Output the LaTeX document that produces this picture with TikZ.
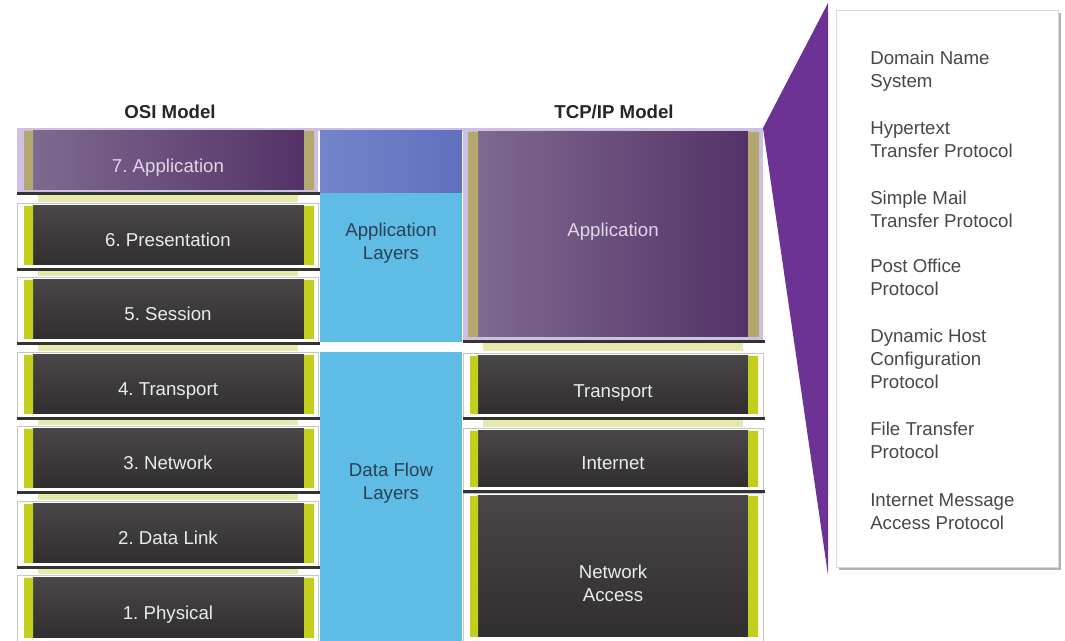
\documentclass[tikz,border=0pt]{standalone}
\usepackage{fontspec}
\setmainfont{Liberation Sans}
\frenchspacing
\definecolor{layertop}{RGB}{72,70,70}
\definecolor{layerdark}{RGB}{48,46,47}
\definecolor{layerstrip}{RGB}{196,206,28}
\definecolor{appstrip}{RGB}{178,168,112}
\definecolor{appframe}{RGB}{206,192,226}
\definecolor{appleft}{RGB}{126,106,142}
\definecolor{appright}{RGB}{84,50,104}
\definecolor{skyblue}{RGB}{95,188,228}
\definecolor{bandleft}{RGB}{116,132,202}
\definecolor{bandright}{RGB}{96,112,190}
\definecolor{funnel}{RGB}{108,50,148}
\definecolor{paleband}{RGB}{230,232,172}
\definecolor{midtext}{RGB}{44,64,86}
\definecolor{prototext}{RGB}{72,72,72}
\definecolor{apptext}{RGB}{224,214,234}

\begin{document}
\begin{tikzpicture}[x=0.75pt,y=0.75pt,yscale=-1,xscale=1,
  frame/.style={fill=white, draw=gray!45, line width=0.4pt},
  appbox/.style={fill=appframe},
  darkbox/.style={top color=layertop, bottom color=layerdark},
  purplebox/.style={left color=appleft, right color=appright},
  strip/.style={fill=layerstrip},
  khaki/.style={fill=appstrip},
  shadowline/.style={fill=black!80},
  band/.style={fill=paleband},
  lbl/.style={font=\fontsize{14}{17.25}\selectfont\frenchspacing, inner sep=0pt, align=center, anchor=base},
  layertext/.style={lbl, text=white!92!black},
  apptextnode/.style={lbl, text=apptext},
  midlabel/.style={lbl, text=midtext},
  headtext/.style={lbl, font=\fontsize{14}{17.25}\selectfont\bfseries, text=black!85},
  prototextnode/.style={font=\fontsize{14}{17.4}\selectfont, inner sep=0pt, align=left, anchor=base west, text=prototext}]

\useasboundingbox (0,0) rectangle (1065,641);

% headers
\draw (170,119) node (osihead) [headtext] {OSI Model};
\draw (614,119) node (tcphead) [headtext] {TCP/IP Model};

% funnel to the protocol list
\fill [funnel] (763,128) -- (828,3) -- (828,575) -- cycle;

% protocol list (multi-line nodes sit on their last line)
\fill [black!30] (839,13) rectangle (1061,570);
\draw [fill=white, draw=gray!30] (836,10) rectangle (1058,567);
\draw (870,88) node (dns) [prototextnode] {Domain Name\\System};
\draw (870,158) node (http) [prototextnode] {Hypertext\\Transfer Protocol};
\draw (870,228) node (smtp) [prototextnode] {Simple Mail\\Transfer Protocol};
\draw (870,296) node (pop) [prototextnode] {Post Office\\Protocol};
\draw (870,389) node (dhcp) [prototextnode] {Dynamic Host\\Configuration\\Protocol};
\draw (870,459) node (ftp) [prototextnode] {File Transfer\\Protocol};
\draw (870,530) node (imap) [prototextnode] {Internet Message\\Access Protocol};

% middle column
\fill [appbox] (318,128) rectangle (463,131);
\fill [left color=bandleft, right color=bandright] (320,131) rectangle (462,193);
\fill [skyblue] (320,193) rectangle (462,342);
\fill [skyblue] (320,352) rectangle (462,641);
\draw (391,260) node (applayers) [midlabel] {Application\\Layers};
\draw (391,500) node (flowlayers) [midlabel] {Data Flow\\Layers};

% OSI 7
\fill [appbox] (17,128) rectangle (318,192);
\fill [purplebox] (33,131) rectangle (304,190);
\fill [khaki] (24,131) rectangle (33,190) (304,131) rectangle (314,190);
\fill [shadowline] (17,192) rectangle (320,195);
\fill [band] (38,195) rectangle (298,202);
\draw (168,173) node (osi7) [apptextnode] {7. Application};

% OSI 6
\draw [frame] (17,203) rectangle (318,268);
\fill [darkbox] (33,206) rectangle (304,265);
\fill [strip] (24,206) rectangle (33,265) (304,206) rectangle (314,265);
\fill [shadowline] (17,268) rectangle (320,271);
\fill [band] (38,271) rectangle (298,276);
\draw (168,247) node (osi6) [layertext] {6. Presentation};

% OSI 5
\draw [frame] (17,277) rectangle (318,342);
\fill [darkbox] (33,280) rectangle (304,339);
\fill [strip] (24,280) rectangle (33,339) (304,280) rectangle (314,339);
\fill [shadowline] (17,342) rectangle (320,345);
\fill [band] (38,345) rectangle (298,351);
\draw (168,321) node (osi5) [layertext] {5. Session};

% OSI 4
\draw [frame] (17,352) rectangle (318,417);
\fill [darkbox] (33,355) rectangle (304,414);
\fill [strip] (24,355) rectangle (33,414) (304,355) rectangle (314,414);
\fill [shadowline] (17,417) rectangle (320,420);
\fill [band] (38,420) rectangle (298,425);
\draw (168,396) node (osi4) [layertext] {4. Transport};

% OSI 3
\draw [frame] (17,426) rectangle (318,491);
\fill [darkbox] (33,429) rectangle (304,488);
\fill [strip] (24,429) rectangle (33,488) (304,429) rectangle (314,488);
\fill [shadowline] (17,491) rectangle (320,494);
\fill [band] (38,494) rectangle (298,500);
\draw (168,470) node (osi3) [layertext] {3. Network};

% OSI 2
\draw [frame] (17,501) rectangle (318,566);
\fill [darkbox] (33,504) rectangle (304,563);
\fill [strip] (24,504) rectangle (33,563) (304,504) rectangle (314,563);
\fill [shadowline] (17,566) rectangle (320,569);
\fill [band] (38,569) rectangle (298,574);
\draw (168,545) node (osi2) [layertext] {2. Data Link};

% OSI 1
\draw [frame] (17,575) rectangle (318,645);
\fill [darkbox] (33,578) rectangle (304,638);
\fill [strip] (24,578) rectangle (33,638) (304,578) rectangle (314,638);
\draw (168,619) node (osi1) [layertext] {1. Physical};

% TCP/IP application
\fill [appbox] (463,128) rectangle (763,340);
\fill [purplebox] (478,132) rectangle (748,337);
\fill [khaki] (468,132) rectangle (478,337) (748,132) rectangle (759,337);
\fill [shadowline] (463,340) rectangle (765,343);
\fill [band] (483,343) rectangle (743,351);
\draw (613,237) node (tcpapp) [apptextnode] {Application};

% TCP/IP transport
\draw [frame] (463,353) rectangle (763,417);
\fill [darkbox] (478,356) rectangle (748,414);
\fill [strip] (470,356) rectangle (478,414) (748,356) rectangle (758,414);
\fill [shadowline] (463,417) rectangle (765,420);
\fill [band] (483,420) rectangle (743,427);
\draw (613,398) node (tcptransport) [layertext] {Transport};

% TCP/IP internet
\draw [frame] (463,428) rectangle (763,490);
\fill [darkbox] (478,431) rectangle (748,487);
\fill [strip] (470,431) rectangle (478,487) (748,431) rectangle (758,487);
\fill [shadowline] (463,490) rectangle (765,493);
\draw (613,470) node (tcpinternet) [layertext] {Internet};

% TCP/IP network access
\draw [frame] (463,493) rectangle (763,645);
\fill [darkbox] (478,496) rectangle (748,637);
\fill [strip] (470,496) rectangle (478,637) (748,496) rectangle (758,637);
\draw (613,602) node (tcpaccess) [layertext] {Network\\Access};

\end{tikzpicture}
\end{document}
